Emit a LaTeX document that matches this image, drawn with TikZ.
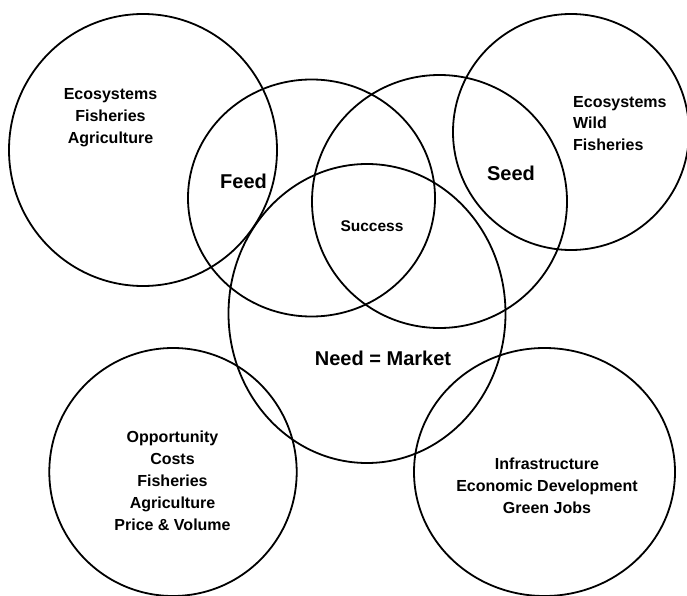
\documentclass[tikz,border=0pt]{standalone}
\usepackage{fontspec}
\setmainfont{Liberation Sans}
\begin{document}
\begin{tikzpicture}[x=1pt,y=-1pt,
  ring/.style={draw=black,line width=1.8pt},
  lbl/.style={font=\bfseries\fontsize{16}{22}\selectfont, align=center, inner sep=0pt},
  lbll/.style={font=\bfseries\fontsize{16}{21.5}\selectfont, align=left, inner sep=0pt},
  big/.style={font=\bfseries\fontsize{20}{24}\selectfont, inner sep=0pt},
  mid/.style={font=\bfseries\fontsize{15.5}{20}\selectfont, inner sep=0pt}]
\fill[white] (0,0) rectangle (687,596);
\useasboundingbox (0,0) rectangle (687,596);
\clip (0,0) rectangle (687,596);
% circles
\draw[ring] (143,150) ellipse [x radius=134, y radius=136];
\draw[ring] (311.5,198) ellipse [x radius=123.5, y radius=118.5];
\draw[ring] (439.5,201.5) ellipse [x radius=127.5, y radius=126.5];
\draw[ring] (571,132) ellipse [x radius=118, y radius=118];
\draw[ring] (367,313.5) ellipse [x radius=138.5, y radius=149.5];
\draw[ring] (173,472) ellipse [x radius=123.7, y radius=124];
\draw[ring] (544.5,472) ellipse [x radius=130.5, y radius=124];
% labels (multi-line nodes: base = baseline of last line)
\node[lbl, anchor=base] (eco1) at (110.5,143.3) {Ecosystems\\Fisheries\\Agriculture};
\node[lbll, anchor=base west] (eco2) at (573,150) {Ecosystems\\Wild\\Fisheries};
\node[big, anchor=base] (feed) at (243.5,188.3) {Feed};
\node[big, anchor=base] (seed) at (511,180) {Seed};
\node[mid, anchor=base] (succ) at (372,231.7) {Success};
\node[big, anchor=base] (need) at (383,365) {Need = Market};
\node[lbl, anchor=base] (opp) at (172.5,530) {Opportunity\\Costs\\Fisheries\\Agriculture\\Price \& Volume};
\node[lbl, anchor=base] (infra) at (547,513.3) {Infrastructure\\Economic Development\\Green Jobs};
\end{tikzpicture}
\end{document}
